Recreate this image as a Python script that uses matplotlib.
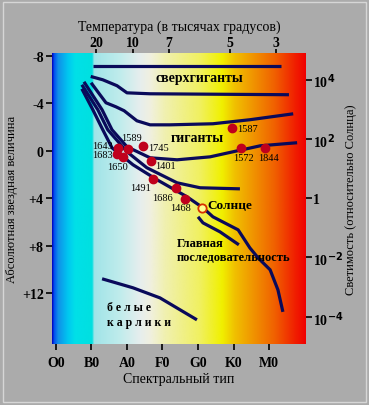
import matplotlib.pyplot as plt
import numpy as np
from matplotlib.colors import LinearSegmentedColormap
from matplotlib.patches import Rectangle

plt.rcParams['font.family'] = ['Liberation Serif', 'DejaVu Serif']
plt.rcParams['font.weight'] = 'bold'
plt.rcParams['axes.unicode_minus'] = False

# spectral classes: O0=0, B0=1, ... M0=6
spec_labels = ['O0', 'B0', 'A0', 'F0', 'G0', 'K0', 'M0']
spec_pos = [0, 1, 2, 3, 4, 5, 6]

temp_labels = ['20', '10', '7', '5', '3']
temp_pos = [1.13, 2.17, 3.18, 4.9, 6.2]

mag_ticks = [-8, -4, 0, 4, 8, 12]
mag_labels = ['-8', '-4', '0', '+4', '+8', '+12']

lum_log = [4, 2, 0, -2, -4]
lum_labels = ['10$^{4}$', '10$^{2}$', '1', '10$^{-2}$', '10$^{-4}$']
m_sun = 4.0

# curves (spectral position, absolute magnitude)
supergiant_x = [1.04, 6.34]
supergiant_y = [-7.17, -7.17]

bright_x = [0.98, 1.32, 1.72, 2.0, 2.65, 6.56]
bright_y = [-6.27, -5.99, -5.49, -4.89, -4.81, -4.73]

giant2_x = [0.99, 1.24, 1.41, 1.69, 1.92, 2.28, 2.65, 3.21, 4.42, 5.46, 6.68]
giant2_y = [-5.74, -4.73, -4.05, -3.71, -3.38, -2.53, -2.19, -2.19, -2.28, -2.62, -3.12]

giant_x = [0.79, 1.30, 1.58, 2.0, 2.65, 3.41, 4.34, 4.99, 5.75, 6.79]
giant_y = [-5.82, -3.46, -1.77, -0.34, 0.59, 0.76, 0.51, 0.08, -0.42, -0.68]

subgiant_x = [0.73, 1.18, 1.46, 2.0, 2.56, 3.41, 4.06, 5.18]
subgiant_y = [-5.57, -3.46, -1.77, 0.08, 1.43, 2.70, 3.12, 3.21]

main_x = [0.73, 1.04, 1.32, 1.58, 2.17, 2.85, 3.69, 4.14, 4.42, 5.13, 5.46, 5.69, 6.03, 6.25, 6.39]
main_y = [-5.23, -3.46, -1.77, -0.25, 1.18, 2.45, 3.88, 4.81, 5.57, 6.67, 8.19, 9.03, 10.04, 11.73, 13.59]

lower_x = [4.0, 4.14, 4.62, 5.15]
lower_y = [5.57, 6.08, 6.84, 7.93]

dwarf_x = [1.30, 2.17, 2.93, 3.97]
dwarf_y = [10.80, 11.56, 12.41, 14.26]

# stars
star_names = ['1643', '1589', '1683', '1650', '1745', '1401', '1491', '1686', '1468', '1587', '1572', '1844']
star_x = [1.75, 2.03, 1.72, 1.89, 2.45, 2.68, 2.73, 3.38, 3.63, 4.96, 5.21, 5.89]
star_y = [-0.25, -0.17, 0.25, 0.51, -0.42, 0.84, 2.36, 3.12, 4.05, -1.94, -0.25, -0.25]
star_off = [(-5, 2, 'right'), (3, 11, 'center'), (-4, -1, 'right'), (-6, -10, 'center'),
            (5, -2, 'left'), (4, -5, 'left'), (-12, -9, 'center'), (-13, -10, 'center'),
            (-4, -9, 'center'), (5, -1, 'left'), (2, -10, 'center'), (3, -10, 'center')]
sun_x, sun_y = 4.11, 4.81

fig = plt.figure(figsize=(3.69, 4.06), dpi=100, facecolor='#ababab')
fig.patches.append(Rectangle((3 / 369, 3 / 406), 363 / 369, 400 / 406, transform=fig.transFigure,
                             fill=False, edgecolor='#d6d6d6', lw=1))
ax = fig.add_axes([52 / 369, 61 / 406, 254 / 369, 291 / 406])

xmin, xmax = -0.11, 7.04
ymin, ymax = 16.3, -8.25

# background colour gradient (pixel stops converted to spectral units)
stops = [(52, '#0000c0'), (54, '#0050f0'), (58, '#1090e8'), (68, '#00c8f0'), (75, '#00e0e8'),
         (92, '#00e0e0'), (94, '#a0e4e8'), (120, '#c0ecec'), (140, '#e6eeee'), (150, '#f0f0e0'),
         (165, '#f0f0b0'), (200, '#f0f060'), (222, '#f0f000'), (235, '#f0c000'), (255, '#f09000'),
         (275, '#f06000'), (295, '#f02000'), (306, '#f00000')]
cmap = LinearSegmentedColormap.from_list('hr', [((p - 52) / 254, c) for p, c in stops], N=512)
ax.imshow(np.linspace(0, 1, 512)[None, :], cmap=cmap, aspect='auto',
          extent=[xmin, xmax, ymin, ymax], zorder=0)

lc = '#0a0a5a'
for xs, ys in [(supergiant_x, supergiant_y), (bright_x, bright_y), (giant2_x, giant2_y),
               (giant_x, giant_y), (subgiant_x, subgiant_y), (main_x, main_y),
               (lower_x, lower_y), (dwarf_x, dwarf_y)]:
    ax.plot(xs, ys, color=lc, lw=2.3, solid_capstyle='butt', zorder=2)

ax.plot(star_x, star_y, 'o', color='#c0001c', ms=6, mec='#c0001c', zorder=3)
ax.plot(sun_x, sun_y, 'o', mfc='#ffff90', mec='#d83000', mew=1.3, ms=6, zorder=3)

for name, x, y, (dx, dy, ha) in zip(star_names, star_x, star_y, star_off):
    ax.annotate(name, (x, y), xytext=(dx, dy), textcoords='offset pixels', ha=ha, va='center',
                fontsize=7.5, fontweight='normal', zorder=4)
ax.annotate('Солнце', (sun_x, sun_y), xytext=(5, 3), textcoords='offset pixels',
            ha='left', va='center', fontsize=9.5, zorder=4)

ax.text(4.05, -6.2, 'сверхгиганты', fontsize=10, ha='center', va='center')
ax.text(3.99, -1.1, 'гиганты', fontsize=10, ha='center', va='center')
ax.text(3.41, 8.4, 'Главная\nпоследовательность', fontsize=9, ha='left', va='center',
        linespacing=1.2)
ax.text(1.45, 13.8, 'б е л ы е\nк а р л и к и', fontsize=8.5, ha='left', va='center',
        linespacing=1.3)

ax.set_xlim(xmin, xmax)
ax.set_ylim(ymin, ymax)
for s in ax.spines.values():
    s.set_visible(False)

ax.set_xticks(spec_pos, spec_labels)
ax.set_yticks(mag_ticks, mag_labels)
ax.tick_params(length=4, width=1.2, labelsize=10, pad=2)
ax.tick_params(axis='x', pad=5)
ax.set_xlabel('Спектральный тип', fontsize=10, labelpad=2)
ax.set_ylabel('Абсолютная звездная величина', fontsize=9, labelpad=3)

top = ax.secondary_xaxis('top')
top.set_xticks(temp_pos, temp_labels)
top.tick_params(length=3, width=1.2, labelsize=10, pad=0)
top.set_xlabel('Температура (в тысячах градусов)', fontsize=10, labelpad=4)
top.spines['top'].set_visible(False)

right = ax.secondary_yaxis('right')
right.set_yticks([m_sun - 2.5 * l for l in lum_log], lum_labels)
right.tick_params(length=4, width=1.2, labelsize=10, pad=1)
right.set_ylabel('Светимость (относительно Солнца)', fontsize=9, labelpad=1)
right.spines['right'].set_visible(False)

fig.savefig('out.png', dpi=100, facecolor=fig.get_facecolor())
